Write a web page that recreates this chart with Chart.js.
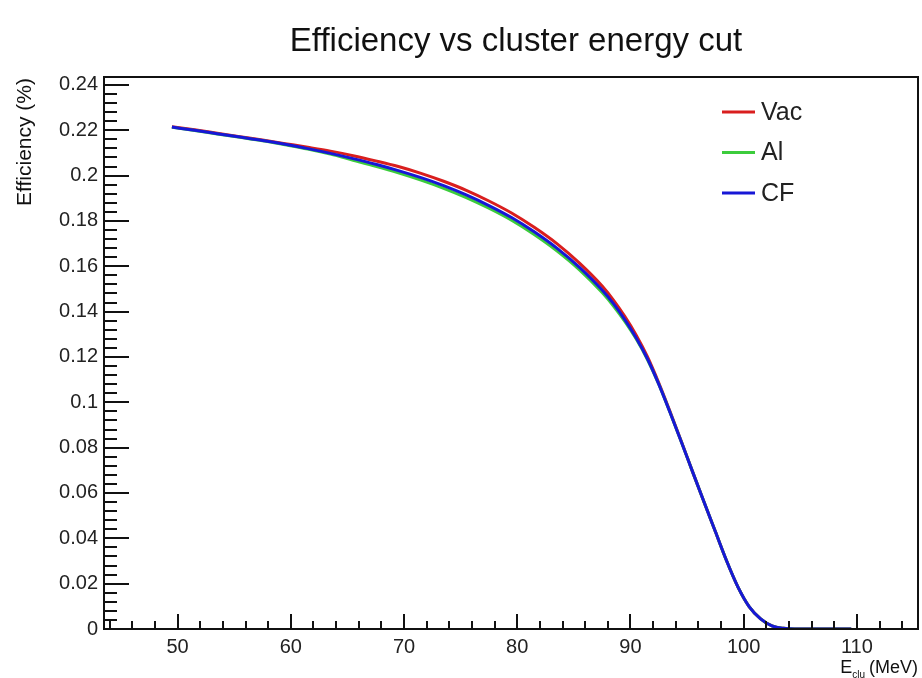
<!DOCTYPE html>
<html>
<head>
<meta charset="utf-8">
<script src="https://cdn.jsdelivr.net/npm/chart.js@4"></script>
<style>
    body { margin: 0; background: #ffffff; }
    canvas { display: block; }
</style>
</head>
<body>
<canvas id="effChart" width="922" height="678"></canvas>
<script>
// cluster energy cut (MeV)
const energies = [49.5, 51.5, 53.5, 55.5, 57.5, 59.5, 61.5, 63.5, 65.5, 67.5,
    69.5, 71.5, 73.5, 75.5, 77.5, 79.5, 81.5, 83.5, 85.5, 87.5,
    88.5, 89.5, 90.5, 91.5, 92.5, 93.5, 94.5, 95.5, 96.5, 97.5,
    98.5, 99.5, 100.5, 101.5, 102.5, 103.5, 104.5, 107, 109.5];

// efficiency (%) for each target configuration
const effVac = [0.2216, 0.2202, 0.2187, 0.2172, 0.2157, 0.2141, 0.2125, 0.2108, 0.2088, 0.2065,
    0.2040, 0.2010, 0.1975, 0.1935, 0.1888, 0.1835, 0.1772, 0.1700, 0.1614, 0.1513,
    0.1451, 0.1379, 0.1297, 0.1201, 0.1086, 0.0959, 0.0827, 0.0692, 0.0560, 0.0430,
    0.0300, 0.0185, 0.0098, 0.0045, 0.0014, 0.0003, 0, 0, 0];
const effAl = [0.2213, 0.2199, 0.2184, 0.2169, 0.2154, 0.2136, 0.2117, 0.2095, 0.2068, 0.2041,
    0.2012, 0.1980, 0.1944, 0.1903, 0.1856, 0.1803, 0.1740, 0.1668, 0.1584, 0.1484,
    0.1425, 0.1357, 0.1280, 0.1189, 0.1080, 0.0955, 0.0825, 0.0692, 0.0560, 0.0430,
    0.0300, 0.0185, 0.0098, 0.0045, 0.0014, 0.0003, 0, 0, 0];
const effCF = [0.2214, 0.2200, 0.2185, 0.2170, 0.2155, 0.2138, 0.2119, 0.2098, 0.2075, 0.2050,
    0.2022, 0.1991, 0.1956, 0.1915, 0.1868, 0.1815, 0.1752, 0.1680, 0.1595, 0.1495,
    0.1435, 0.1365, 0.1285, 0.1192, 0.1080, 0.0955, 0.0825, 0.0692, 0.0560, 0.0430,
    0.0300, 0.0185, 0.0098, 0.0045, 0.0014, 0.0003, 0, 0, 0];

const xTicks = [50, 60, 70, 80, 90, 100, 110];
const yTicks = [0, 0.02, 0.04, 0.06, 0.08, 0.1, 0.12, 0.14, 0.16, 0.18, 0.2, 0.22, 0.24];

const FONT = '"Liberation Sans", Arial, sans-serif';

function toPoints(values) {
    return energies.map((e, i) => ({ x: e, y: values[i] }));
}

// frame, inward ticks, titles and legend drawn the ROOT way
const rootDecor = {
    id: 'rootDecor',
    afterDatasetsDraw(chart) {
        const ctx = chart.ctx;
        const area = chart.chartArea;
        const xs = chart.scales.x;
        const ys = chart.scales.y;

        ctx.save();
        ctx.strokeStyle = '#111111';
        ctx.lineWidth = 2;
        ctx.strokeRect(area.left, area.top, area.right - area.left, area.bottom - area.top);

        ctx.beginPath();
        for (let v = 44; v <= 115; v += 2) {
            const px = Math.round(xs.getPixelForValue(v));
            const len = v % 10 === 0 ? 15 : 8;
            ctx.moveTo(px, area.bottom);
            ctx.lineTo(px, area.bottom - len);
        }
        for (let k = 0; k <= 60; k++) {
            const py = Math.round(ys.getPixelForValue(k * 0.004));
            const len = k % 5 === 0 ? 25 : 13;
            ctx.moveTo(area.left, py);
            ctx.lineTo(area.left + len, py);
        }
        ctx.stroke();

        // title
        ctx.fillStyle = '#111111';
        ctx.font = '33px ' + FONT;
        ctx.textAlign = 'center';
        ctx.textBaseline = 'alphabetic';
        ctx.fillText('Efficiency vs cluster energy cut', 516, 51);

        // y axis title, right-aligned to the top of the axis
        ctx.save();
        ctx.translate(31, 78);
        ctx.rotate(-Math.PI / 2);
        ctx.font = '21px ' + FONT;
        ctx.textAlign = 'right';
        ctx.fillText('Efficiency (%)', 0, 0);
        ctx.restore();

        // x axis title with subscript
        ctx.textAlign = 'left';
        ctx.font = '18px ' + FONT;
        const tail = '(MeV)';
        const wTail = ctx.measureText(tail).width;
        const wE = ctx.measureText('E').width;
        ctx.font = '10px ' + FONT;
        const wSub = ctx.measureText('clu').width + 4;
        const x0 = 918 - wTail - wSub - wE;
        ctx.font = '18px ' + FONT;
        ctx.fillText('E', x0, 673);
        ctx.font = '10px ' + FONT;
        ctx.fillText('clu', x0 + wE, 678);
        ctx.font = '18px ' + FONT;
        ctx.fillText(tail, x0 + wE + wSub, 673);

        // legend
        ctx.font = '25px ' + FONT;
        ctx.textBaseline = 'middle';
        chart.data.datasets.forEach((ds, i) => {
            const y = 112 + i * 40.5;
            ctx.strokeStyle = ds.borderColor;
            ctx.lineWidth = 3;
            ctx.beginPath();
            ctx.moveTo(722, y);
            ctx.lineTo(755, y);
            ctx.stroke();
            ctx.fillStyle = '#222222';
            ctx.fillText(ds.label, 761, y + 1);
        });
        ctx.restore();
    }
};

const ctx = document.getElementById('effChart').getContext('2d');
new Chart(ctx, {
    type: 'line',
    data: {
        datasets: [
            {
                label: 'Vac',
                data: toPoints(effVac),
                borderColor: '#d91e1e',
                borderWidth: 3,
                order: 2
            },
            {
                label: 'Al',
                data: toPoints(effAl),
                borderColor: '#3ccc3c',
                borderWidth: 3,
                order: 1
            },
            {
                label: 'CF',
                data: toPoints(effCF),
                borderColor: '#1717d6',
                borderWidth: 3,
                order: 0
            }
        ]
    },
    options: {
        responsive: false,
        animation: false,
        devicePixelRatio: 1,
        layout: {
            padding: { top: 77, right: 4, left: 0, bottom: 0 }
        },
        elements: {
            point: { radius: 0 },
            line: { cubicInterpolationMode: 'monotone', fill: false }
        },
        scales: {
            x: {
                type: 'linear',
                min: 43.5,
                max: 115.4,
                afterBuildTicks: s => { s.ticks = xTicks.map(v => ({ value: v })); },
                afterFit: s => { s.height = 49; },
                grid: { display: false, drawTicks: false },
                border: { display: false },
                ticks: {
                    font: { family: FONT, size: 20 },
                    color: '#222222',
                    padding: 6,
                    maxRotation: 0,
                    autoSkip: false
                }
            },
            y: {
                type: 'linear',
                min: 0,
                max: 0.2435,
                afterBuildTicks: s => { s.ticks = yTicks.map(v => ({ value: v })); },
                afterFit: s => { s.width = 104; },
                grid: { display: false, drawTicks: false },
                border: { display: false },
                ticks: {
                    font: { family: FONT, size: 20 },
                    color: '#222222',
                    padding: 6,
                    autoSkip: false,
                    callback: v => String(+v.toFixed(3))
                }
            }
        },
        plugins: {
            legend: { display: false },
            tooltip: { enabled: false }
        }
    },
    plugins: [rootDecor]
});
</script>
</body>
</html>
